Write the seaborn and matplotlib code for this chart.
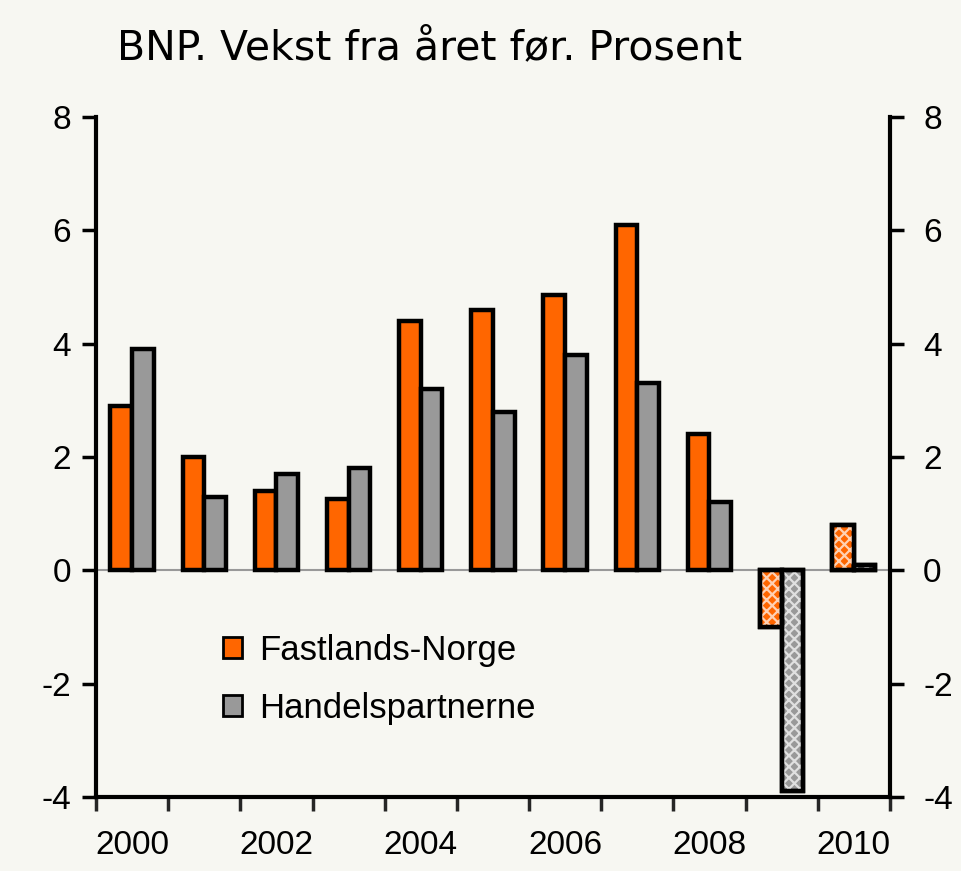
import matplotlib
matplotlib.use("Agg")
import matplotlib.pyplot as plt
import seaborn as sns
import pandas as pd
from matplotlib.patches import Rectangle

# data
years = [2000, 2001, 2002, 2003, 2004, 2005, 2006, 2007, 2008, 2009, 2010]
fastland = [2.9, 2.0, 1.4, 1.25, 4.4, 4.6, 4.85, 6.1, 2.4, -1.0, 0.8]
handel = [3.9, 1.3, 1.7, 1.8, 3.2, 2.8, 3.8, 3.3, 1.2, -3.9, 0.1]
forecast_years = [2009, 2010]
series = ["Fastlands-Norge", "Handelspartnerne"]
colors = ["#ff6600", "#999999"]
ytick_vals = [-4, -2, 0, 2, 4, 6, 8]
xtick_labels = ["2000", "2002", "2004", "2006", "2008", "2010"]

df = pd.DataFrame({
    "year": years * 2,
    "value": fastland + handel,
    "serie": [series[0]] * len(years) + [series[1]] * len(years),
})

sns.set_style("white")
bg = "#f7f7f2"
plt.rcParams["font.family"] = ["Liberation Sans", "DejaVu Sans"]
plt.rcParams["text.color"] = "black"
plt.rcParams["hatch.linewidth"] = 1.6

fig = plt.figure(figsize=(9.62, 8.71), dpi=100, facecolor=bg)
ax = fig.add_axes([0.0998, 0.085, 0.8252, 0.7807])
ax.set_facecolor(bg)

sns.barplot(data=df, x="year", y="value", hue="serie", palette=colors,
            width=0.6, edgecolor="black", errorbar=None, ax=ax, saturation=1)

# hatch the forecast bars (2009-2010 are projections)
fc_idx = [years.index(y) for y in forecast_years]
for cont in ax.containers:
    for i, p in enumerate(cont):
        p.set_linewidth(3.2)
        if i in fc_idx:
            base = p.get_facecolor()
            light = tuple(min(1, c * 0.3 + 0.7) for c in base[:3])
            ov = Rectangle(p.get_xy(), p.get_width(), p.get_height(), fill=False,
                           hatch="xxx", edgecolor=light, linewidth=0, zorder=p.get_zorder() + 0.1)
            ax.add_patch(ov)
            edge = Rectangle(p.get_xy(), p.get_width(), p.get_height(), fill=False,
                             edgecolor="black", linewidth=3.2, zorder=p.get_zorder() + 0.2)
            ax.add_patch(edge)

ax.axhline(0, color="#999999", linewidth=1.5, zorder=0.5)

ax.set_ylim(-4, 8)
ax.set_xlim(-0.5, len(years) - 0.5)
ax.set_yticks(ytick_vals)
ax.set_yticklabels([str(v) for v in ytick_vals], fontsize=24)
ax.tick_params(axis="y", which="both", direction="out", length=10, width=2.5,
               left=True, right=False, labelleft=True, pad=8, colors="black")

# right axis mirrors the left one
ax2 = ax.twinx()
ax2.set_ylim(ax.get_ylim())
ax2.set_yticks(ytick_vals)
ax2.set_yticklabels([str(v) for v in ytick_vals], fontsize=24)
ax2.tick_params(axis="y", direction="out", length=10, width=2.5, right=True,
                labelright=True, pad=14, colors="black")
for s in ax2.spines.values():
    s.set_visible(False)

# x ticks at boundaries, labels at category centres
ax.set_xticks([i - 0.5 for i in range(len(years) + 1)])
ax.set_xticklabels([])
ax.set_xticks([years.index(int(l)) for l in xtick_labels], minor=True)
ax.set_xticklabels(xtick_labels, minor=True, fontsize=24)
ax.tick_params(axis="x", which="major", direction="out", length=10, width=2.5, bottom=True)
ax.tick_params(axis="x", which="minor", length=0, pad=24, colors="black")

for s in ["left", "right", "bottom"]:
    ax.spines[s].set_visible(True)
    ax.spines[s].set_linewidth(3)
    ax.spines[s].set_color("black")
ax.spines["top"].set_visible(False)

ax.set_xlabel("")
ax.set_ylabel("")

handles, labels = ax.get_legend_handles_labels()
leg = ax.legend(handles, labels, loc="upper left", bbox_to_anchor=(0.138, 0.265), frameon=False,
                fontsize=25, handlelength=0.55, handleheight=0.55, handletextpad=0.5,
                labelspacing=0.72, borderpad=0)
for t in leg.get_texts():
    t.set_color("black")
for h in leg.legend_handles:
    h.set_linewidth(2)
    h.set_edgecolor("black")

fig.text(0.122, 0.945, "BNP. Vekst fra året før. Prosent", fontsize=29.5,
         family="DejaVu Sans", color="black", va="center", ha="left")

fig.savefig("out.png", dpi=100, facecolor=bg)
